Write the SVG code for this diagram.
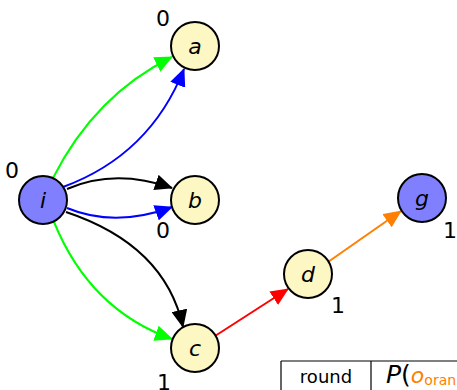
<svg xmlns="http://www.w3.org/2000/svg" width="457" height="390" viewBox="0 0 457 390">
<defs>
<style>
.n{stroke:#000;stroke-width:2}
.y{fill:#fdf7c3}
.b{fill:#8080ff}
.e{fill:none;stroke-width:2}
.lab{font-family:"DejaVu Sans",sans-serif;font-size:22px;font-style:italic;text-anchor:middle;dominant-baseline:central}
.num{font-family:"DejaVu Sans",sans-serif;font-size:22px;text-anchor:middle}
.t{font-family:"DejaVu Sans",sans-serif;font-size:18px}
</style>
<marker id="mk" markerWidth="18" markerHeight="16" refX="17" refY="8" orient="auto" markerUnits="userSpaceOnUse"><path d="M0,0 L18,8 L0,16 Z" fill="#000"/></marker>
<marker id="mb" markerWidth="18" markerHeight="16" refX="17" refY="8" orient="auto" markerUnits="userSpaceOnUse"><path d="M0,0 L18,8 L0,16 Z" fill="#0000ff"/></marker>
<marker id="mg" markerWidth="18" markerHeight="16" refX="17" refY="8" orient="auto" markerUnits="userSpaceOnUse"><path d="M0,0 L18,8 L0,16 Z" fill="#00ff00"/></marker>
<marker id="mr" markerWidth="18" markerHeight="16" refX="17" refY="8" orient="auto" markerUnits="userSpaceOnUse"><path d="M0,0 L18,8 L0,16 Z" fill="#ff0000"/></marker>
<marker id="mo" markerWidth="18" markerHeight="16" refX="17" refY="8" orient="auto" markerUnits="userSpaceOnUse"><path d="M0,0 L18,8 L0,16 Z" fill="#ff8000"/></marker>
</defs>
<rect width="457" height="390" fill="#fff"/>
<g id="connectors">
<path class="e" stroke="#00ff00" d="M53,178 Q95,95 172,57" marker-end="url(#mg)"/>
<path class="e" stroke="#0000ff" d="M63,187 Q150,155 184,69" marker-end="url(#mb)"/>
<path class="e" stroke="#000" d="M67,189 Q115,168 172,188" marker-end="url(#mk)"/>
<path class="e" stroke="#0000ff" d="M67,208 Q115,228 172,207" marker-end="url(#mb)"/>
<path class="e" stroke="#000" d="M66,212 Q165,245 183,327" marker-end="url(#mk)"/>
<path class="e" stroke="#00ff00" d="M54,222 Q90,310 172,339" marker-end="url(#mg)"/>
<path class="e" stroke="#ff0000" d="M215,336 L288,289" marker-end="url(#mr)"/>
<path class="e" stroke="#ff8000" d="M328,262 L401,211" marker-end="url(#mo)"/>
</g>
<g id="node-a"><circle class="n y" cx="195" cy="46" r="24"/><text class="lab" x="195" y="46">a</text><text class="num" x="163" y="26">0</text></g>
<g id="node-i"><circle class="n b" cx="43" cy="200" r="24"/><text class="lab" x="43" y="200">i</text><text class="num" x="12" y="178">0</text></g>
<g id="node-b"><circle class="n y" cx="195" cy="200" r="24"/><text class="lab" x="195" y="200">b</text><text class="num" x="163" y="238">0</text></g>
<g id="node-c"><circle class="n y" cx="195" cy="348" r="24"/><text class="lab" x="195" y="348">c</text><text class="num" x="164" y="390">1</text></g>
<g id="node-d"><circle class="n y" cx="308" cy="274" r="24"/><text class="lab" x="308" y="274">d</text><text class="num" x="338" y="313">1</text></g>
<g id="node-g"><circle class="n b" cx="422" cy="198" r="24"/><text class="lab" x="422" y="198">g</text><text class="num" x="450" y="238">1</text></g>
<g id="table">
<path d="M281,361 H457 M281,361 V390 M371,361 V390" stroke="#000" stroke-width="1.2" fill="none"/>
<text class="t" x="326" y="383" text-anchor="middle">round</text>
<text class="t" x="386" y="383"><tspan font-style="italic" font-size="25">P</tspan><tspan font-size="25">(</tspan><tspan font-style="italic" fill="#ff8000" font-size="22">o</tspan><tspan fill="#ff8000" font-size="14" dy="2">oran</tspan></text>
</g>
</svg>
